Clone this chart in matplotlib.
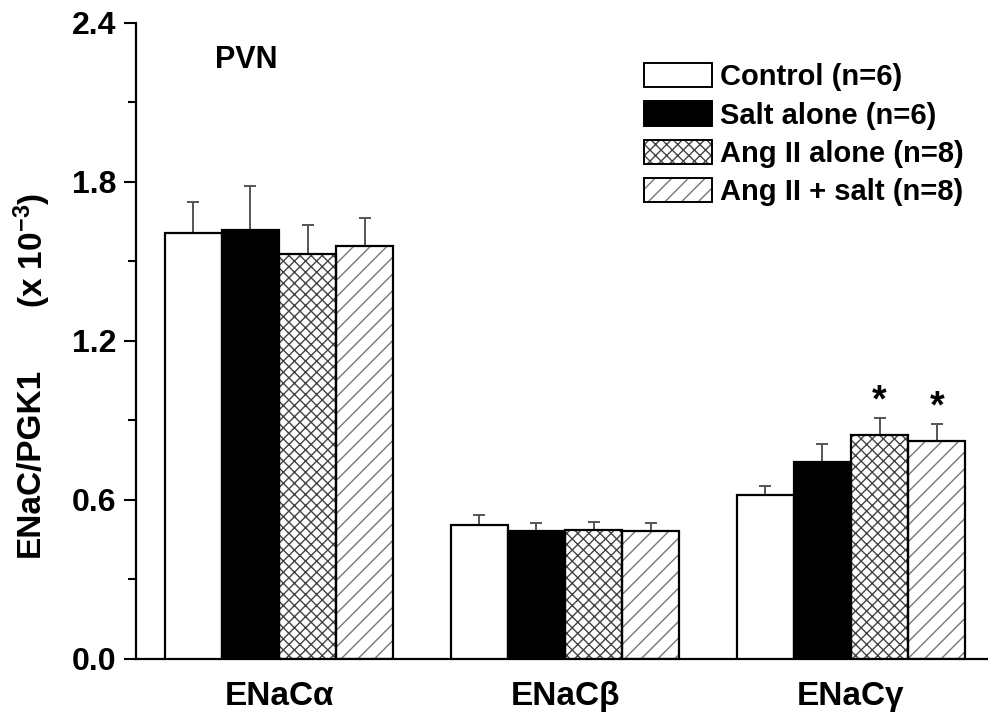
import numpy as np
import matplotlib.pyplot as plt
from matplotlib.patches import Patch
from matplotlib.legend_handler import HandlerTuple

plt.rcParams['font.family'] = ['Liberation Sans', 'DejaVu Sans']
plt.rcParams['font.weight'] = 'bold'
plt.rcParams['mathtext.fontset'] = 'custom'
plt.rcParams['mathtext.rm'] = 'Liberation Sans:bold'
plt.rcParams['mathtext.bf'] = 'Liberation Sans:bold'
plt.rcParams['mathtext.default'] = 'bf'

genes = ['ENaCα', 'ENaCβ', 'ENaCγ']
groups = ['Control (n=6)', 'Salt alone (n=6)', 'Ang II alone (n=8)', 'Ang II + salt (n=8)']
means = {
    'Control (n=6)':      [1.605, 0.503, 0.618],
    'Salt alone (n=6)':   [1.618, 0.483, 0.743],
    'Ang II alone (n=8)': [1.528, 0.485, 0.844],
    'Ang II + salt (n=8)': [1.557, 0.482, 0.823],
}
sem = {
    'Control (n=6)':      [0.118, 0.039, 0.034],
    'Salt alone (n=6)':   [0.166, 0.030, 0.068],
    'Ang II alone (n=8)': [0.107, 0.031, 0.063],
    'Ang II + salt (n=8)': [0.107, 0.030, 0.062],
}
# significance marks (gene index, group)
stars = [(2, 'Ang II alone (n=8)'), (2, 'Ang II + salt (n=8)')]

faces = ['white', 'black', 'white', 'white']
hatches = [None, None, 'xxx', '//']
hatch_cols = ['white', 'black', '#444444', '#777777']

fig = plt.figure(figsize=(9.88, 7.27), dpi=100)
ax = fig.add_axes([0.1377, 0.094, 0.8684, 0.8748])

x = np.arange(len(genes))
w = 0.2
handles = []
for i, g in enumerate(groups):
    xs = x + (i - 1.5) * w
    m = np.array(means[g])
    e = np.array(sem[g])
    ax.errorbar(xs, m, yerr=[np.zeros_like(e), e], fmt='none', ecolor='#555555',
                elinewidth=1.4, capsize=4.2, capthick=1.4, zorder=1)
    if hatches[i]:
        ax.bar(xs, m, w, color=faces[i], edgecolor=hatch_cols[i], hatch=hatches[i],
               linewidth=0, zorder=2)
    ax.bar(xs, m, w, facecolor='none' if hatches[i] else faces[i], edgecolor='black',
           linewidth=1.6, zorder=3)
    p1 = Patch(facecolor=faces[i], edgecolor=hatch_cols[i], hatch=hatches[i], linewidth=0)
    p2 = Patch(facecolor='none', edgecolor='black', linewidth=1.4)
    handles.append((p1, p2))

for gi, g in stars:
    i = groups.index(g)
    ax.text(x[gi] + (i - 1.5) * w, means[g][gi] + sem[g][gi] + 0.062, '*',
            ha='center', va='center', fontsize=27, fontweight='bold')

ax.set_xlim(-0.5, 2.5)
ax.set_ylim(0, 2.4)
ax.set_yticks([0, 0.6, 1.2, 1.8, 2.4])
ax.set_yticklabels(['0.0', '0.6', '1.2', '1.8', '2.4'])
ax.set_yticks([0.3, 0.9, 1.5, 2.1], minor=True)
ax.set_xticks(x)
ax.set_xticklabels(genes)
ax.tick_params(axis='y', which='major', length=9, width=1.5, labelsize=23, pad=5)
ax.tick_params(axis='y', which='minor', length=6, width=1.5)
ax.tick_params(axis='x', length=0, labelsize=24, pad=16)
for s in ['top', 'right']:
    ax.spines[s].set_visible(False)
for s in ['left', 'bottom']:
    ax.spines[s].set_linewidth(1.6)

ax.text(0.092, 0.942, 'PVN', transform=ax.transAxes, fontsize=22, fontweight='bold',
        ha='left', va='center')

fig.text(0.031, 0.3645, 'ENaC/PGK1', rotation=90, ha='center', va='center',
         fontsize=24, fontweight='bold')
fig.text(0.033, 0.656, r'(x 10$^{-3}$)', rotation=90, ha='center', va='center',
         fontsize=24, fontweight='bold')

ax.legend(handles, groups, handler_map={tuple: HandlerTuple(ndivide=1)},
          loc='upper left', bbox_to_anchor=(0.579, 0.955), frameon=False,
          fontsize=21, handlelength=2.3, handleheight=0.9, labelspacing=0.35,
          handletextpad=0.3, borderaxespad=0.0)

fig.savefig('out.png', dpi=100)
